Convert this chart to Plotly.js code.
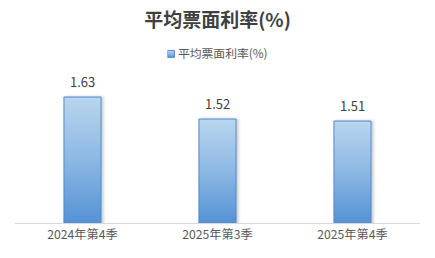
<!DOCTYPE html>
<html>
<head>
<meta charset="utf-8">
<script src="https://cdn.plot.ly/plotly-3.0.1.min.js"></script>
<style>
  html, body { margin: 0; padding: 0; background: #fff; }
  #chart { width: 435px; height: 258px; }
</style>
</head>
<body>
<div id="chart"></div>
<script>
// Average coupon rate by quarter
const categories = ['2024年第4季', '2025年第3季', '2025年第4季'];
const rates = [1.63, 1.52, 1.51];
const seriesName = '平均票面利率(%)';
const chartTitle = '平均票面利率(%)';

const FONT = '"Noto Sans CJK SC", "Microsoft YaHei", sans-serif';
const Y_RANGE = [1.0, 1.8];

const trace = {
  type: 'bar',
  x: categories,
  y: rates,
  name: seriesName,
  width: 0.275,
  marker: {
    color: '#7FB0E0',
    line: { color: '#5189CC', width: 1 }
  },
  hoverinfo: 'x+y',
  showlegend: true
};

// value labels above each bar
const annotations = categories.map((c, i) => ({
  x: c,
  y: rates[i],
  text: rates[i].toFixed(2),
  showarrow: false,
  yanchor: 'bottom',
  yshift: 4,
  font: { family: FONT, size: 13, color: '#404040' }
}));

const layout = {
  width: 435,
  height: 258,
  margin: { l: 15, r: 15, t: 63, b: 35 },
  paper_bgcolor: '#ffffff',
  plot_bgcolor: '#ffffff',
  font: { family: FONT, color: '#595959' },
  title: {
    text: '<b>' + chartTitle + '</b>',
    font: { family: FONT, size: 19, color: '#404040' },
    x: 0.5,
    xanchor: 'center',
    y: 0.92,
    yanchor: 'middle',
    yref: 'container'
  },
  showlegend: true,
  legend: {
    orientation: 'h',
    x: 0.5,
    xanchor: 'center',
    y: 1.06,
    yanchor: 'middle',
    font: { family: FONT, size: 11.8, color: '#595959' },
    itemwidth: 30
  },
  xaxis: {
    type: 'category',
    showline: true,
    linecolor: '#D9D9D9',
    linewidth: 1,
    ticks: '',
    showgrid: false,
    zeroline: false,
    tickfont: { family: FONT, size: 12.2, color: '#595959' },
    fixedrange: true
  },
  yaxis: {
    range: Y_RANGE,
    visible: false,
    showgrid: false,
    zeroline: false,
    fixedrange: true
  },
  annotations: annotations
};

const svgNS = 'http://www.w3.org/2000/svg';

function makeGradient(defs, id, attrs) {
  const g = document.createElementNS(svgNS, 'linearGradient');
  g.setAttribute('id', id);
  Object.keys(attrs).forEach(k => g.setAttribute(k, attrs[k]));
  [['0%', '#BAD5EE'], ['50%', '#8CB8E4'], ['100%', '#5592D5']].forEach(([o, c]) => {
    const s = document.createElementNS(svgNS, 'stop');
    s.setAttribute('offset', o); s.setAttribute('stop-color', c);
    g.appendChild(s);
  });
  defs.appendChild(g);
}

Plotly.newPlot('chart', [trace], layout, { displayModeBar: false, staticPlot: true }).then(gd => {
  const svg = gd.querySelector('svg.main-svg');
  let defs = svg.querySelector('defs');
  if (!defs) { defs = document.createElementNS(svgNS, 'defs'); svg.insertBefore(defs, svg.firstChild); }

  // soft shadow on the right of each bar
  const filt = document.createElementNS(svgNS, 'filter');
  filt.setAttribute('id', 'barShadow');
  filt.setAttribute('x', '-30%'); filt.setAttribute('y', '-10%');
  filt.setAttribute('width', '160%'); filt.setAttribute('height', '120%');
  const ds = document.createElementNS(svgNS, 'feDropShadow');
  ds.setAttribute('dx', '2'); ds.setAttribute('dy', '0');
  ds.setAttribute('stdDeviation', '1.5');
  ds.setAttribute('flood-color', '#000'); ds.setAttribute('flood-opacity', '0.2');
  filt.appendChild(ds);
  defs.appendChild(filt);

  // each bar: gradient runs from its own top down to the visible baseline
  const ya = gd._fullLayout.yaxis;
  const yBase = ya.c2p(Y_RANGE[0]);
  gd.querySelectorAll('.barlayer .point path').forEach((p, i) => {
    const id = 'barGrad' + i;
    makeGradient(defs, id, {
      gradientUnits: 'userSpaceOnUse',
      x1: 0, x2: 0,
      y1: ya.c2p(rates[i]), y2: yBase
    });
    p.style.fill = 'url(#' + id + ')';
    p.setAttribute('filter', 'url(#barShadow)');
  });

  // compact legend key: small square next to its label, recentred on the key + label
  makeGradient(defs, 'keyGrad', { x1: 0, y1: 0, x2: 0, y2: 1 });
  const leg = gd.querySelector('g.legend');
  const sym = leg.querySelector('.legendpoints path');
  const txt = leg.querySelector('text.legendtext');
  if (sym && txt) {
    sym.setAttribute('d', 'M-3.5,-3.5h7v7h-7z');
    sym.setAttribute('transform', 'translate(3.5,0.5)');
    sym.style.fill = 'url(#keyGrad)';
    sym.style.stroke = '#5189CC';
    sym.style.strokeWidth = '1px';
    txt.setAttribute('x', 10.5);
    const rs = sym.getBoundingClientRect();
    const rt = txt.getBoundingClientRect();
    const mid = (Math.min(rs.left, rt.left) + Math.max(rs.right, rt.right)) / 2;
    const dx = gd._fullLayout.width / 2 - mid;
    const m = /translate\(\s*([-\d.]+)[ ,]+([-\d.]+)\s*\)/.exec(leg.getAttribute('transform') || '');
    if (m) leg.setAttribute('transform', 'translate(' + (parseFloat(m[1]) + dx) + ',' + m[2] + ')');
  }
});
</script>
</body>
</html>
